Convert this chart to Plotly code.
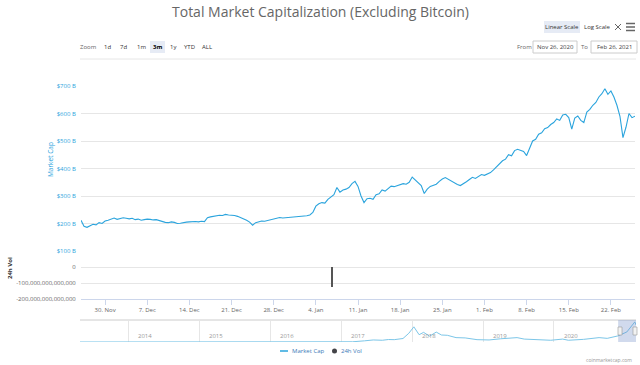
import plotly.graph_objects as go
import pandas as pd

W, H = 640, 365
def px(x): return x / W
def py(y): return 1 - y / H

# ---------------- data ----------------
# Market cap (billions USD), one reading every 12 hours from 2020-11-26 00:00
mcap_b = [
    212, 190, 186, 193, 197, 195, 203, 200, 209, 212,
    217, 220, 215, 218, 221, 219, 217, 219, 214, 216,
    212, 214, 216, 215, 213, 214, 210, 208, 204, 203,
    206, 204, 200, 201, 204, 205, 206, 207, 207, 206,
    208, 207, 221, 224, 226, 228, 230, 229, 233, 231,
    231, 229, 226, 222, 216, 212, 205, 194, 203, 206,
    209, 208, 211, 213, 215, 219, 222, 220, 221, 223,
    224, 223, 225, 226, 227, 228, 231, 240, 263, 272,
    276, 274, 288, 296, 305, 331, 314, 322, 325, 331,
    345, 353, 335, 300, 276, 290, 292, 288, 305, 308,
    322, 318, 328, 336, 334, 338, 340, 345, 343, 350,
    369, 358, 348, 338, 309, 325, 335, 338, 343, 353,
    362, 367, 360, 355, 348, 342, 338, 344, 352, 360,
    368, 364, 372, 378, 375, 380, 385, 395, 405, 416,
    428, 434, 450, 446, 465, 470, 465, 462, 447, 476,
    500, 506, 525, 530, 545, 549, 560, 567, 580, 575,
    595, 597, 585, 543, 583, 591, 575, 567, 605, 615,
    630, 640, 660, 672, 690, 670, 682, 660, 630, 590,
    512, 550, 600, 585, 590,
]
mcap_start = "2020-11-26"

vol_dates = ["2021-01-06 16:00"]
vol_values = [-125e12]

nav_dates = [
    "2013-04-28", "2013-12-01", "2014-06-01", "2015-01-01", "2015-06-01",
    "2016-01-01", "2016-06-01", "2017-01-01", "2017-03-01", "2017-05-01",
    "2017-06-15", "2017-08-01", "2017-09-01", "2017-10-01", "2017-11-15",
    "2017-12-15", "2018-01-10", "2018-02-06", "2018-03-01", "2018-04-01",
    "2018-05-05", "2018-06-01", "2018-07-01", "2018-08-15", "2018-10-01",
    "2018-12-01", "2019-02-01", "2019-04-01", "2019-06-25", "2019-08-01",
    "2019-10-01", "2019-12-15", "2020-02-15", "2020-03-15", "2020-06-01",
    "2020-08-20", "2020-10-01", "2020-11-26", "2021-01-10", "2021-02-20",
    "2021-02-26",
]
nav_values = [
    0.5, 1.5, 1, 1, 1,
    1.5, 4, 4, 8, 40,
    70, 60, 85, 80, 120,
    300, 520, 250, 330, 200,
    340, 240, 230, 150, 140,
    80, 70, 110, 150, 100,
    90, 60, 100, 60, 90,
    150, 125, 210, 345, 690,
    585,
]

y_ticks = [100, 200, 300, 400, 500, 600, 700]
y_tick_labels = ["$100 B", "$200 B", "$300 B", "$400 B", "$500 B", "$600 B", "$700 B"]
vol_ticks = [0, -1e14, -2e14]
vol_tick_labels = ["0", "-100,000,000,000,000", "-200,000,000,000,000"]
years = [2014, 2015, 2016, 2017, 2018, 2019, 2020]
zoom_buttons = ["1d", "7d", "1m", "3m", "1y", "YTD", "ALL"]

# ---------------- figure ----------------
BLUE = "#2ba4dd"
GRID = "#e6e6e6"
FONT = "Open Sans"

mcap_times = pd.date_range(mcap_start, periods=len(mcap_b), freq="12h")
week_ticks = pd.date_range("2020-11-30", "2021-02-22", freq="7D")
week_labels = [f"{d.day}. {d.strftime('%b')}" for d in week_ticks]

fig = go.Figure()
fig.add_trace(go.Scatter(x=mcap_times, y=mcap_b, mode="lines",
                         line=dict(color=BLUE, width=1.1),
                         xaxis="x", yaxis="y", name="Market Cap"))
fig.add_trace(go.Bar(x=pd.to_datetime(vol_dates), y=vol_values,
                     width=1.5 * 3600 * 1000, marker_color="#555555",
                     marker_line_width=0,
                     xaxis="x", yaxis="y2", name="24h Vol"))
fig.add_trace(go.Scatter(x=pd.to_datetime(nav_dates), y=nav_values, mode="lines",
                         line=dict(color="#7cc6e8", width=1),
                         xaxis="x2", yaxis="y3", name="nav"))

x0, x1 = 81, 635
fig.update_layout(
    width=W, height=H, margin=dict(l=0, r=0, t=0, b=0),
    paper_bgcolor="white", plot_bgcolor="white", showlegend=False,
    font=dict(family=FONT, size=6, color="#666"),
    bargap=0,
    xaxis=dict(domain=[px(x0), px(x1)], range=["2020-11-26", "2021-02-26"],
               anchor="y2", tickvals=week_ticks, ticktext=week_labels,
               tickfont=dict(size=6, color="#666"), ticks="outside", ticklen=5,
               tickcolor="#ccd6eb", showline=True, linecolor="#ccd6eb",
               showgrid=False, zeroline=False, automargin=False),
    yaxis=dict(domain=[py(251), py(86)], range=[100, 700], anchor="x",
               tickvals=y_ticks, ticktext=y_tick_labels,
               tickfont=dict(size=6, color=BLUE), gridcolor=GRID,
               zeroline=False, showline=False, automargin=False, ticklen=3,
               ticks="outside", tickcolor="white"),
    yaxis2=dict(domain=[py(299), py(264)], range=[-2e14, 0.2e14], anchor="x",
                tickvals=vol_ticks, ticktext=vol_tick_labels,
                tickfont=dict(size=6, color="#666"), gridcolor=GRID,
                zeroline=False, showline=False, automargin=False, ticklen=3,
                ticks="outside", tickcolor="white"),
    xaxis2=dict(domain=[px(80), px(636)], range=["2013-04-28", "2021-02-26"],
                anchor="y3", tickvals=[f"{y}-01-01" for y in years],
                showticklabels=False, showgrid=True, gridcolor=GRID,
                zeroline=False, showline=False, automargin=False),
    yaxis3=dict(domain=[py(342), py(321)], range=[0, 720], anchor="x2",
                visible=False, showgrid=False),
)

ann = []
def text(x, y, t, size=6, color="#666", xanchor="center", angle=0, xref="paper", bold=False):
    ann.append(dict(x=x if xref != "paper" else px(x), y=py(y), xref=xref, yref="paper",
                    text=f"<b>{t}</b>" if bold else t, showarrow=False,
                    font=dict(size=size, color=color, family=FONT),
                    xanchor=xanchor, yanchor="middle", textangle=angle))

text(320, 12, "Total Market Capitalization (Excluding Bitcoin)", size=14, color="#666")
text(50, 160, "Market Cap", size=6.5, color=BLUE, angle=-90)
text(10, 268, "24h Vol", size=6, color="#333", angle=-90, bold=True)

# range selector
text(88, 47, "Zoom", color="#666")
btn_x = [107, 123, 141, 157, 173, 189, 207]
for bx, b in zip(btn_x, zoom_buttons):
    text(bx, 47, b, color="#000" if b == "3m" else "#333", bold=(b == "3m"))
text(524, 47, "From", color="#666")
text(555, 47, "Nov 26, 2020", color="#444")
text(584, 47, "To", color="#666")
text(614, 47, "Feb 26, 2021", color="#444")

# top right buttons
text(562, 27, "Linear Scale", color="#333")
text(597, 27, "Log Scale", color="#333")

# navigator year labels
for y in years:
    text(f"{y}-02-10", 336, str(y), size=6, color="#999", xanchor="left", xref="x2")

# legend
text(290, 351, "Market Cap", size=6, color="#3b7ab8", xanchor="left")
text(339, 351, "24h Vol", size=6, color="#3b7ab8", xanchor="left")

# credits
text(634, 360, "coinmarketcap.com", size=5, color="#999", xanchor="right")

shapes = []
def rect(xa, ya, xb, yb, fill, line="rgba(0,0,0,0)", lw=1, layer="below"):
    shapes.append(dict(type="rect", xref="paper", yref="paper",
                       x0=px(xa), x1=px(xb), y0=py(yb), y1=py(ya),
                       fillcolor=fill, line=dict(color=line, width=lw), layer=layer))
def seg(xa, ya, xb, yb, color, w=1):
    shapes.append(dict(type="line", xref="paper", yref="paper",
                       x0=px(xa), x1=px(xb), y0=py(ya), y1=py(yb),
                       line=dict(color=color, width=w)))

rect(150, 41, 165, 53, "#e6ebf5")
rect(533, 41, 577, 53, "white", line="#cccccc")
rect(591, 41, 637, 53, "white", line="#cccccc")
rect(544, 21, 580, 33, "#e6ebf5")
seg(80, 59, 636, 59, GRID)

# icons
for yy in (23.5, 27, 30.5):
    seg(626, yy, 635, yy, "#666", 1.5)
seg(615, 24, 618, 27, "#666", 1)
seg(621, 24, 618, 27, "#666", 1)
seg(615, 30, 618, 27, "#666", 1)
seg(621, 30, 618, 27, "#666", 1)

# navigator frame and selection
seg(80, 320, 636, 320, "#cccccc")
shapes.append(dict(type="rect", xref="x2", yref="paper",
                   x0="2020-11-26", x1="2021-02-26", y0=py(342), y1=py(320),
                   fillcolor="rgba(102,133,194,0.3)", line=dict(width=0), layer="above"))
for hx in (620, 635):
    rect(hx - 2, 327, hx + 2, 335, "#f2f2f2", line="#999", lw=0.6, layer="above")

# legend symbols
seg(280, 351, 288, 351, BLUE, 1.5)
shapes.append(dict(type="circle", xref="paper", yref="paper",
                   x0=px(332), x1=px(337), y0=py(353.5), y1=py(348.5),
                   fillcolor="#434348", line=dict(width=0)))

fig.update_layout(annotations=ann, shapes=shapes)
fig.write_html("out.html", config={"displayModeBar": False},
               post_script="document.body.style.margin='0';document.body.style.overflow='hidden';")
